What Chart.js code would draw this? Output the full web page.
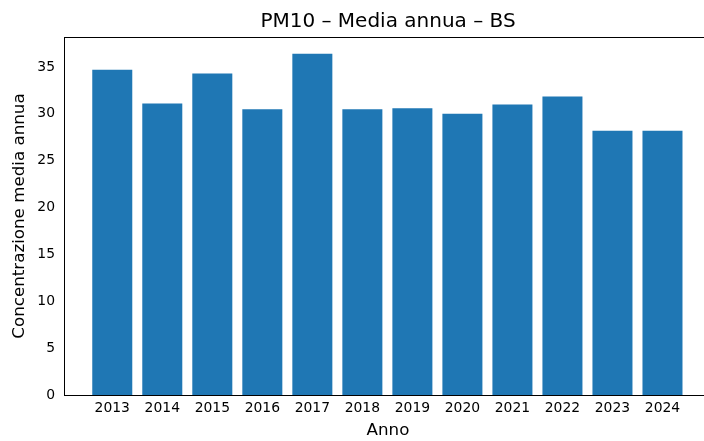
<!DOCTYPE html>
<html>
<head>
<meta charset="utf-8">
<script src="https://cdn.jsdelivr.net/npm/chart.js@4.4.1/dist/chart.umd.min.js"></script>
<style>
  html, body { margin: 0; padding: 0; background: #fff; }
  /* l'immagine originale taglia il lato destro del grafico */
  #wrap { width: 704px; height: 441px; overflow: hidden; }
</style>
</head>
<body>
<div id="wrap"><canvas id="pmChart" width="714" height="441"></canvas></div>
<script>
const anni = ['2013', '2014', '2015', '2016', '2017', '2018', '2019', '2020', '2021', '2022', '2023', '2024'];
const mediaAnnua = [34.7, 31.1, 34.3, 30.5, 36.4, 30.5, 30.6, 30.0, 31.0, 31.85, 28.2, 28.2];
const yTicks = [0, 5, 10, 15, 20, 25, 30, 35];
const titolo = 'PM10 – Media annua – BS';

const font = 'DejaVu Sans';

// riquadro completo + titolo centrato sugli assi (come matplotlib)
const framePlugin = {
    id: 'frame',
    afterDraw(chart) {
        const a = chart.chartArea;
        const ctx = chart.ctx;
        ctx.save();
        ctx.strokeStyle = '#000';
        ctx.lineWidth = 1;
        ctx.strokeRect(a.left + 0.5, a.top + 0.5, a.right - a.left - 1, a.bottom - a.top);
        ctx.fillStyle = '#000';
        ctx.font = '20px "DejaVu Sans"';
        ctx.textAlign = 'center';
        ctx.textBaseline = 'middle';
        ctx.fillText(titolo, (a.left + a.right) / 2, 22);
        ctx.restore();
    }
};

const ctx = document.getElementById('pmChart');
new Chart(ctx, {
    type: 'bar',
    data: {
        datasets: [{
            label: 'PM10',
            data: mediaAnnua.map((v, i) => ({ x: i, y: v })),
            backgroundColor: '#1f77b4',
            borderWidth: 0,
            categoryPercentage: 1,
            barPercentage: 0.8
        }]
    },
    options: {
        responsive: false,
        animation: false,
        devicePixelRatio: 1,
        layout: { padding: { top: 37, right: 2, bottom: 0, left: 0 } },
        plugins: {
            legend: { display: false },
            tooltip: { enabled: false },
            title: { display: false }
        },
        scales: {
            x: {
                type: 'linear',
                offset: false,
                min: -0.965,
                max: 11.99,
                grid: { display: false, drawTicks: true, tickLength: 5, tickColor: '#000' },
                border: { display: true, color: '#000' },
                afterBuildTicks(scale) {
                    scale.ticks = anni.map((a, i) => ({ value: i }));
                },
                ticks: {
                    color: '#000',
                    font: { family: font, size: 13.9 },
                    padding: 0,
                    maxRotation: 0,
                    autoSkip: false,
                    callback: (v) => anni[v]
                },
                title: {
                    display: true,
                    text: 'Anno',
                    color: '#000',
                    font: { family: font, size: 16.7 },
                    padding: { top: 1, bottom: 0 }
                },
                afterFit(scale) { scale.height = 46; }
            },
            y: {
                min: 0,
                max: 38.2,
                grid: { display: false, drawTicks: true, tickLength: 5, tickColor: '#000' },
                border: { display: true, color: '#000' },
                afterBuildTicks(scale) {
                    scale.ticks = yTicks.map(v => ({ value: v }));
                },
                ticks: {
                    color: '#000',
                    font: { family: font, size: 13.9 },
                    padding: 4,
                    autoSkip: false
                },
                title: {
                    display: true,
                    text: 'Concentrazione media annua',
                    color: '#000',
                    font: { family: font, size: 16.7 },
                    padding: { top: 10, bottom: 0 }
                },
                afterFit(scale) { scale.width = 64; }
            }
        }
    },
    plugins: [framePlugin]
});
</script>
</body>
</html>
